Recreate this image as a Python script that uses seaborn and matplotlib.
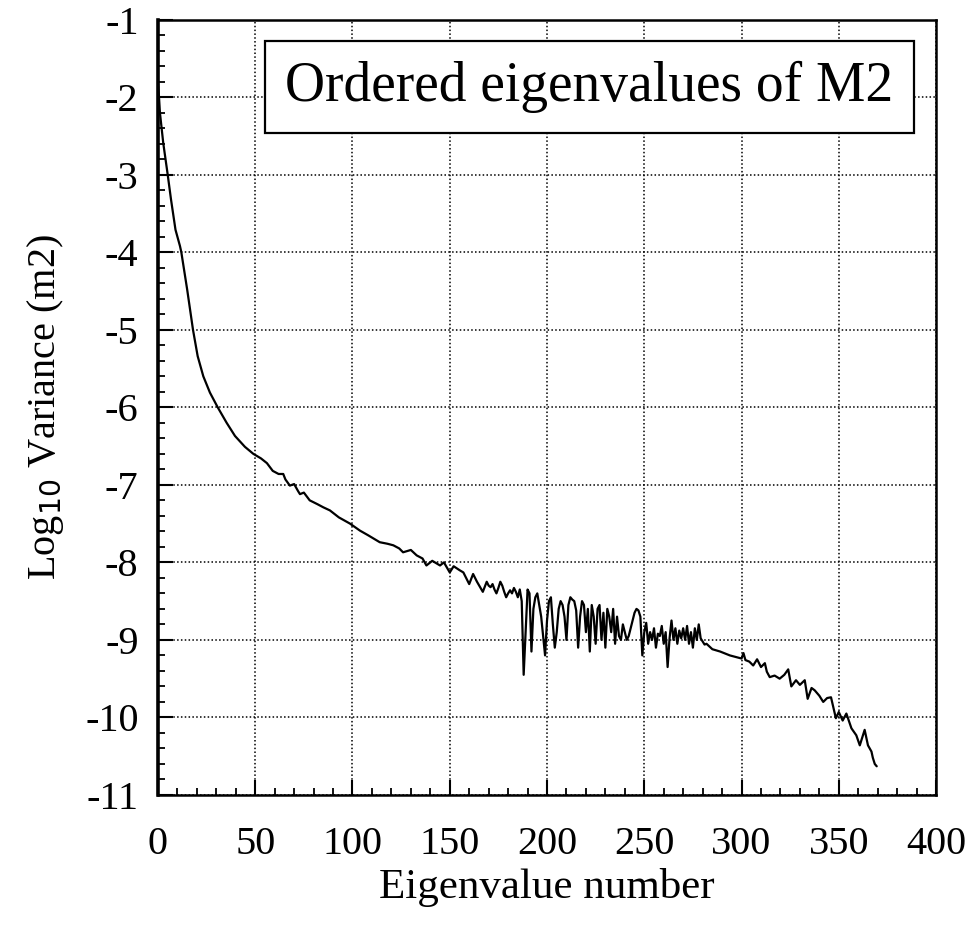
import numpy as np
import pandas as pd
import seaborn as sns
import matplotlib.pyplot as plt
from matplotlib.ticker import MultipleLocator

# smooth head of the spectrum
head_x = [0, 0.5, 1, 2.7, 5, 6.7, 9, 11.3, 12, 15, 18, 20.4, 23.3, 26.7, 30.7,
          35.3, 39.6, 44.7, 49, 53, 56, 59, 62, 64.4, 65.5, 67.8, 70, 72, 73,
          75, 78, 82, 85, 88.4, 93, 98.7, 103.8, 108, 114, 118, 121, 124, 126,
          130, 133, 136, 138, 141, 145, 147, 150, 152, 155, 157, 160, 162, 164,
          167, 169]
head_y = [-1.78, -2.0, -2.2, -2.59, -3.0, -3.32, -3.71, -3.92, -4.0, -4.48,
          -5.0, -5.34, -5.6, -5.81, -6.0, -6.2, -6.37, -6.51, -6.6, -6.66,
          -6.72, -6.82, -6.86, -6.86, -6.93, -7.01, -6.99, -7.08, -7.12, -7.1,
          -7.2, -7.25, -7.29, -7.33, -7.42, -7.5, -7.59, -7.65, -7.74, -7.76,
          -7.78, -7.82, -7.87, -7.84, -7.91, -7.95, -8.04, -7.98, -8.04, -8.0,
          -8.13, -8.05, -8.1, -8.13, -8.28, -8.15, -8.25, -8.38, -8.25]

# noisy middle section, eigenvalues 170..282
mid_x = list(range(170, 283))
mid_y = [-8.30, -8.32, -8.28, -8.35, -8.40, -8.33, -8.25, -8.30, -8.38, -8.45,
         -8.40, -8.36, -8.40, -8.33, -8.38, -8.45, -8.35, -8.50, -9.45, -8.90,
         -8.35, -8.40, -9.15, -8.60, -8.45, -8.40, -8.55, -8.70, -8.95, -9.20,
         -8.75, -8.50, -8.45, -8.80, -9.10, -8.90, -8.60, -8.50, -8.55, -8.70,
         -9.00, -8.55, -8.45, -8.48, -8.50, -8.62, -9.10, -8.70, -8.50, -8.55,
         -8.90, -8.60, -9.15, -8.55, -8.70, -9.05, -8.60, -8.55, -9.00, -8.65,
         -9.10, -8.60, -8.70, -8.90, -8.60, -9.05, -8.70, -8.95, -9.00, -8.80,
         -8.90, -9.00, -8.95, -8.85, -8.75, -8.65, -8.60, -8.62, -8.70, -9.20,
         -8.90, -8.78, -9.05, -8.90, -9.00, -8.85, -9.10, -8.92, -8.95, -8.82,
         -9.05, -8.90, -9.35, -8.98, -8.75, -9.00, -8.85, -9.05, -8.88, -8.98,
         -8.85, -9.00, -8.82, -9.05, -8.90, -9.10, -8.85, -9.00, -8.80, -8.98,
         -9.02, -9.06, -9.05]

# tail
tail_x = [285, 289, 292, 294, 297, 300, 301, 302, 304, 306, 308, 310, 312, 313,
          314.5, 317, 319.6, 322, 324, 325.6, 328, 330, 332.5, 334, 336, 337.6,
          340, 342, 344, 346, 348.5, 350, 352, 353.9, 356.5, 359, 360.8, 363.3,
          365, 366.8, 367.5, 368.5, 369.5]
tail_y = [-9.12, -9.15, -9.18, -9.20, -9.22, -9.24, -9.17, -9.26, -9.28, -9.33,
          -9.25, -9.35, -9.30, -9.41, -9.48, -9.46, -9.50, -9.45, -9.38, -9.60,
          -9.52, -9.58, -9.52, -9.76, -9.62, -9.65, -9.72, -9.80, -9.75, -9.74,
          -10.01, -9.93, -10.04, -9.95, -10.14, -10.23, -10.36, -10.16, -10.36,
          -10.44, -10.52, -10.60, -10.63]

df = pd.DataFrame({'n': head_x + mid_x + tail_x,
                   'logvar': head_y + mid_y + tail_y})

sns.set_style('white')
plt.rcParams['font.family'] = ['Liberation Serif', 'DejaVu Serif']
plt.rcParams['axes.unicode_minus'] = False
plt.rcParams['text.color'] = 'black'
plt.rcParams['axes.labelcolor'] = 'black'

fig = plt.figure(figsize=(9.71, 9.26), dpi=100)
ax = fig.add_axes([0.1627, 0.1415, 0.8013, 0.8373])

sns.lineplot(data=df, x='n', y='logvar', ax=ax, color='black', linewidth=1.6,
             sort=False, estimator=None)

ax.set_xlim(0, 400)
ax.set_ylim(-11, -1)
ax.xaxis.set_major_locator(MultipleLocator(50))
ax.xaxis.set_minor_locator(MultipleLocator(10))
ax.yaxis.set_major_locator(MultipleLocator(1))
ax.yaxis.set_minor_locator(MultipleLocator(0.2))
ax.grid(True, which='major', color='black', linestyle=(0, (1, 1.5)), linewidth=1.1)
ax.tick_params(which='both', bottom=True, left=True, top=False, right=False,
               direction='in', colors='black')
ax.tick_params(which='major', length=11, width=1.5, labelsize=29, pad=22)
ax.tick_params(axis='y', which='major', pad=14)
ax.tick_params(which='minor', length=5, width=1.3)
for side in ['left', 'bottom', 'right', 'top']:
    ax.spines[side].set_color('black')
    ax.spines[side].set_linewidth(1.8)
ax.spines['left'].set_linewidth(2.6)

ax.set_xlabel('Eigenvalue number', fontsize=31, labelpad=4, color='black')
ax.set_ylabel('Log$_{10}$ Variance (m2)', fontsize=29, labelpad=14, color='black')

ax.text(0.5546, 0.913, 'Ordered eigenvalues of M2', transform=ax.transAxes,
        fontsize=40, ha='center', va='center', color='black',
        bbox=dict(boxstyle='square,pad=0.36', facecolor='white',
                  edgecolor='black', linewidth=1.6))

fig.savefig('out.png', dpi=100)
